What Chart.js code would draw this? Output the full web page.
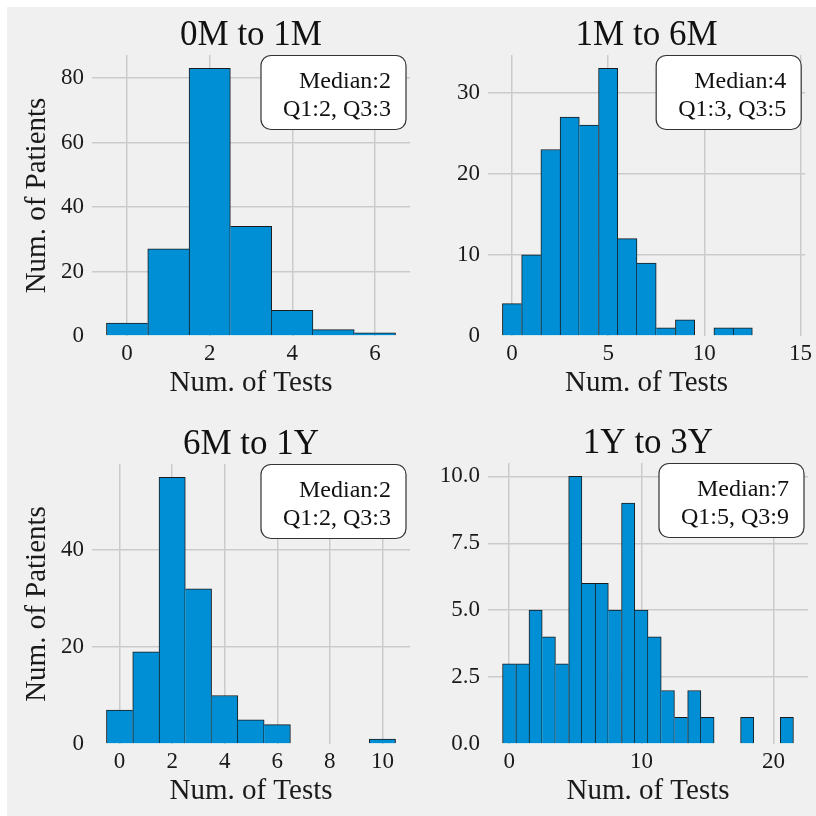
<!DOCTYPE html>
<html>
<head>
<meta charset="utf-8">
<script src="https://cdn.jsdelivr.net/npm/chart.js"></script>
<style>
  body { margin: 0; background: #ffffff; }
  #fig { position: absolute; left: 7px; top: 7px; width: 809px; height: 809px; background: #f0f0f0; }
  canvas { position: absolute; }
</style>
</head>
<body>
<div id="fig"></div>
<canvas id="c1" width="409" height="401" style="left:7px;top:7px"></canvas>
<canvas id="c2" width="400" height="401" style="left:416px;top:7px"></canvas>
<canvas id="c3" width="409" height="408" style="left:7px;top:408px"></canvas>
<canvas id="c4" width="400" height="408" style="left:416px;top:408px"></canvas>
<script>
// panel titles and box stats
const titles = ['0M to 1M', '1M to 6M', '6M to 1Y', '1Y to 3Y'];
const medians = [2, 4, 2, 7];
const q1s = [2, 3, 2, 5];
const q3s = [3, 5, 3, 9];

// histogram bins (num. of tests) and counts (num. of patients)
const bins1 = [0, 1, 2, 3, 4, 5, 6];
const counts1 = [4, 27, 83, 34, 8, 2, 1];
const bins2 = [0, 1, 2, 3, 4, 5, 6, 7, 8, 9, 10, 11, 12, 13, 14];
const counts2 = [4, 10, 23, 27, 26, 33, 12, 9, 1, 2, 0, 1, 1, 0, 0];
const bins3 = [0, 1, 2, 3, 4, 5, 6, 7, 8, 9, 10];
const counts3 = [7, 19, 55, 32, 10, 5, 4, 0, 0, 0, 1];
const bins4 = [0, 1, 2, 3, 4, 5, 6, 7, 8, 9, 10, 11, 12, 13, 14, 15, 16, 17, 18, 19, 20, 21];
const counts4 = [3, 3, 5, 4, 3, 10, 6, 6, 5, 9, 5, 4, 2, 1, 2, 1, 0, 0, 1, 0, 0, 1];

// tick labels
const xTicks1 = [0, 2, 4, 6];
const yTicks1 = [0, 20, 40, 60, 80];
const xTicks2 = [0, 5, 10, 15];
const yTicks2 = [0, 10, 20, 30];
const xTicks3 = [0, 2, 4, 6, 8, 10];
const yTicks3 = [0, 20, 40];
const xTicks4 = [0, 10, 20];
const yTicks4 = [0, 2.5, 5, 7.5, 10];

const SERIF = '"Liberation Serif", "Times New Roman", serif';
const GRID = '#cbcbcb';
const BLUE = '#008fd5';
const NONE = 'rgba(0,0,0,0)';

Chart.defaults.font.family = SERIF;
Chart.defaults.color = '#1a1a1a';

function roundRect(ctx, x, y, w, h, r) {
  ctx.beginPath();
  ctx.moveTo(x + r, y);
  ctx.arcTo(x + w, y, x + w, y + h, r);
  ctx.arcTo(x + w, y + h, x, y + h, r);
  ctx.arcTo(x, y + h, x, y, r);
  ctx.arcTo(x, y, x + w, y, r);
  ctx.closePath();
}

// title over the axes + rounded stats box in the top right corner
const panelDecor = {
  id: 'panelDecor',
  afterDatasetsDraw(chart, args, opts) {
    const { ctx, chartArea } = chart;
    ctx.save();
    ctx.fillStyle = '#111';
    ctx.textBaseline = 'alphabetic';
    ctx.font = '35px ' + SERIF;
    ctx.textAlign = 'center';
    ctx.fillText(opts.title, (chartArea.left + chartArea.right) / 2, chartArea.top - 10);

    const bw = 145, bh = 74;
    const bx = chartArea.right - 4 - bw, by = chartArea.top + 0.5;
    roundRect(ctx, bx, by, bw, bh, 10);
    ctx.fillStyle = '#ffffff';
    ctx.fill();
    ctx.lineWidth = 1.2;
    ctx.strokeStyle = '#333';
    ctx.stroke();

    ctx.fillStyle = '#111';
    ctx.font = '24px ' + SERIF;
    ctx.textAlign = 'right';
    ctx.fillText(opts.lines[0], bx + bw - 15, by + 32);
    ctx.fillText(opts.lines[1], bx + bw - 15, by + 60);
    ctx.restore();
  }
};

// draw each shared bar edge once, owned by the taller neighbour
function edgeWidths(ctx) {
  const d = ctx.dataset.data, i = ctx.dataIndex;
  const v = d[i].y;
  const prev = i > 0 ? d[i - 1].y : 0;
  const next = i < d.length - 1 ? d[i + 1].y : 0;
  return { top: 1, left: v >= prev ? 1 : 0, right: next < v ? 1 : 0, bottom: 0 };
}

function makeHist(id, idx, bins, counts, xTicks, yTicks, xr, ymax, p) {
  const points = bins.map((b, i) => ({ x: b, y: counts[i] }));
  return new Chart(document.getElementById(id), {
    type: 'bar',
    data: {
      datasets: [{
        data: points,
        backgroundColor: c => (c.raw && c.raw.y > 0 ? BLUE : NONE),
        borderColor: c => (c.raw && c.raw.y > 0 ? '#1b1b1b' : NONE),
        borderWidth: edgeWidths,
        barPercentage: 1,
        categoryPercentage: 1
      }]
    },
    options: {
      responsive: false,
      animation: false,
      devicePixelRatio: 1,
      layout: { padding: { left: 0, right: p.right, top: p.top, bottom: 0 } },
      plugins: {
        legend: { display: false },
        tooltip: { enabled: false },
        panelDecor: {
          title: titles[idx],
          lines: ['Median:' + medians[idx], 'Q1:' + q1s[idx] + ', Q3:' + q3s[idx]]
        }
      },
      scales: {
        x: {
          type: 'linear',
          min: xr[0],
          max: xr[1],
          offset: false,
          afterBuildTicks: s => { s.ticks = xTicks.map(v => ({ value: v })); },
          afterFit: s => { s.height = 72; },
          grid: { color: GRID, lineWidth: 1.5, drawTicks: false, offset: false },
          border: { display: false },
          ticks: { font: { size: 23 }, padding: 4, maxRotation: 0 },
          title: { display: true, text: 'Num. of Tests', font: { size: 29 }, padding: { top: 0, bottom: 7 } }
        },
        y: {
          min: 0,
          max: ymax,
          afterBuildTicks: s => { s.ticks = yTicks.map(v => ({ value: v })); },
          afterFit: s => { s.width = p.yw; },
          grid: {
            color: c => (c.tick && c.tick.value === 0 ? NONE : GRID),
            lineWidth: 1.5,
            drawTicks: false
          },
          border: { display: false },
          ticks: {
            font: { size: 23 },
            padding: 8,
            callback: v => (p.dec ? v.toFixed(1) : String(v))
          },
          title: { display: p.ytitle, text: 'Num. of Patients', font: { size: 29 }, padding: { top: 13, bottom: 0 } }
        }
      }
    },
    plugins: [panelDecor]
  });
}

makeHist('c1', 0, bins1, counts1, xTicks1, yTicks1, [-0.85, 6.85], 87.15, { right: 6, top: 48, yw: 85, ytitle: true });
makeHist('c2', 1, bins2, counts2, xTicks2, yTicks2, [-1.25, 15.25], 34.65, { right: 8, top: 48, yw: 72, ytitle: false });
makeHist('c3', 2, bins3, counts3, xTicks3, yTicks3, [-1.05, 11.05], 57.75, { right: 6, top: 56, yw: 85, ytitle: true });
makeHist('c4', 3, bins4, counts4, xTicks4, yTicks4, [-1.6, 22.6], 10.5, { right: 8, top: 55, yw: 72, ytitle: false, dec: true });
</script>
</body>
</html>
